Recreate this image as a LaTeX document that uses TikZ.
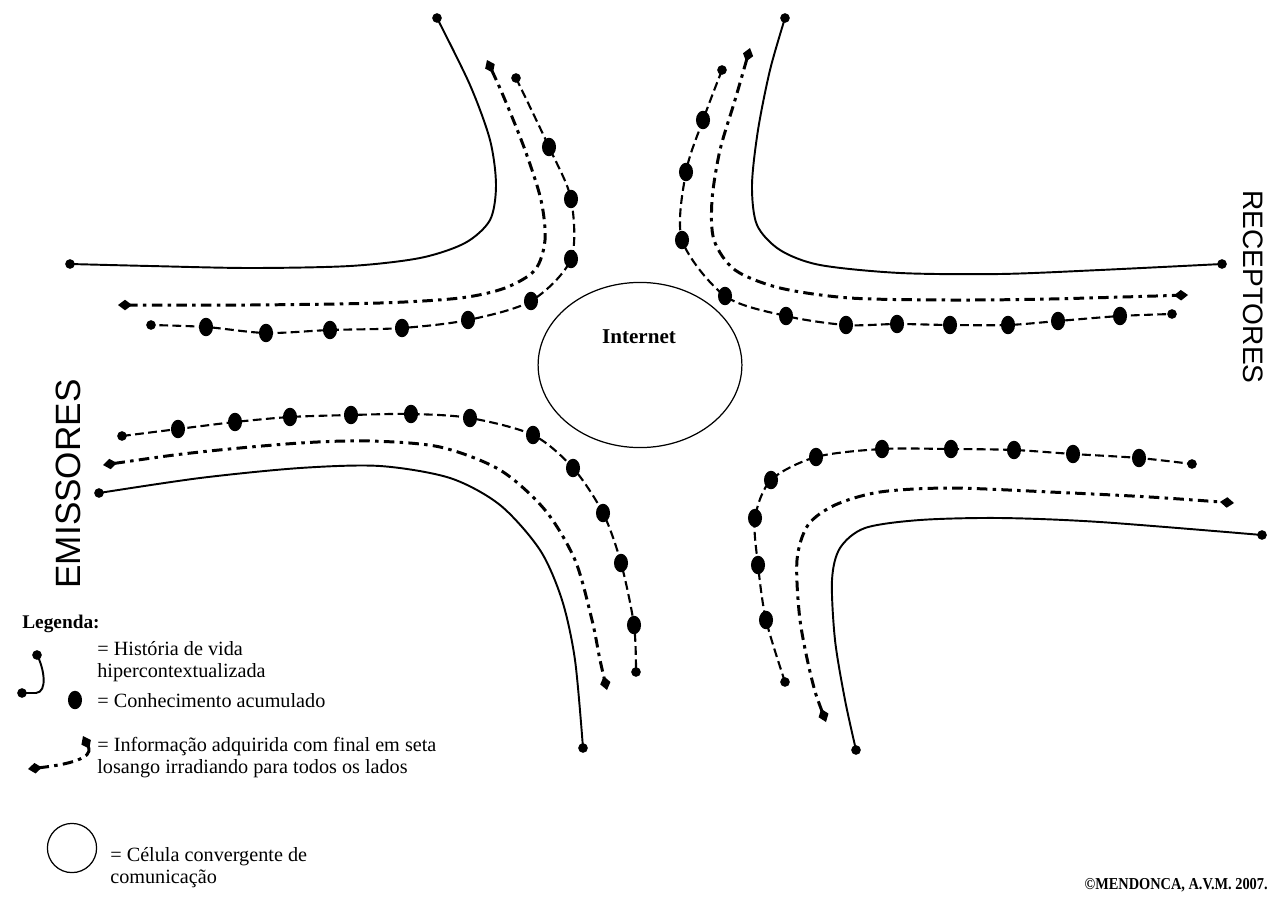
\documentclass[tikz,border=0pt]{standalone}
\usepackage{fontspec}
\setmainfont{Liberation Serif}
\setsansfont{Liberation Sans}
\usepackage{tikz}
\usetikzlibrary{arrows.meta}
\usetikzlibrary{shapes.geometric}

\begin{document}
\begin{tikzpicture}[x=0.02cm,y=-0.02cm,
	lifeline/.style={line width=1.1pt},
	infoline/.style={line width=1.7pt,dash pattern=on 6pt off 3pt on 2pt off 3pt,
		{Diamond[length=8pt,width=6pt]}-{Diamond[length=8pt,width=6pt]}},
	knowline/.style={line width=1.2pt,dash pattern=on 5pt off 2.5pt},
	enddot/.style={circle,fill=black,inner sep=0pt,minimum size=5.5pt},
	bigdot/.style={ellipse,fill=black,inner sep=0pt,minimum width=8pt,minimum height=10.5pt},
	legtext/.style={anchor=west,align=left,inner sep=0pt,font=\fontsize{11.5}{12.5}\selectfont}]
	
	\useasboundingbox (0,0) rectangle (1270,899);
	
	% --- Internet (centre cell) ---
	\node[draw,ellipse,line width=0.7pt,minimum width=116pt,minimum height=94pt] (internet) at (640,365) {};
	\node[font=\bfseries\fontsize{12}{13}\selectfont] (netlabel) at (639,337) {Internet};
	
	% --- top left ---
	\draw[lifeline] plot[smooth] coordinates {(437,18) (470,85) (490,140) (496,185) (490,220) (465,243) (420,258) (350,266) (250,268) (150,266) (70,264)};
	\node[enddot] (tlA) at (437,18) {};
	\node[enddot] (tlB) at (70,264) {};
	\draw[infoline] plot[smooth] coordinates {(487,60) (505,100) (525,150) (541,200) (545,240) (535,270) (505,288) (460,298) (380,303) (250,305) (118,305)};
	\draw[knowline] plot[smooth] coordinates {(516,78) (549,147) (571,199) (571,259) (531,301) (468,320) (402,328) (330,330) (266,333) (206,327) (151,325)};
	\foreach \x/\y in {549/147,571/199,571/259,531/301,468/320,402/328,330/330,266/333,206/327}
	\node[bigdot] at (\x,\y) {};
	\node[enddot] at (516,78) {};
	\node[enddot] at (151,325) {};
	
	% --- top right ---
	\draw[lifeline] plot[smooth] coordinates {(785,18) (770,70) (758,130) (752,185) (757,225) (780,250) (820,265) (900,273) (1000,274) (1100,270) (1222,264)};
	\node[enddot] (trA) at (785,18) {};
	\node[enddot] (trB) at (1222,264) {};
	\draw[infoline] plot[smooth] coordinates {(750,48) (735,100) (720,150) (712,200) (714,240) (735,270) (780,288) (850,298) (950,300) (1050,299) (1188,295)};
	\draw[knowline] plot[smooth] coordinates {(722,70) (703,120) (686,172) (682,240) (725,296) (786,316) (846,325) (897,324) (950,325) (1008,325) (1058,321) (1120,316) (1172,314)};
	\foreach \x/\y in {703/120,686/172,682/240,725/296,786/316,846/325,897/324,950/325,1008/325,1058/321,1120/316}
	\node[bigdot] at (\x,\y) {};
	\node[enddot] at (722,70) {};
	\node[enddot] at (1172,314) {};
	
	% --- bottom left ---
	\draw[lifeline] plot[smooth] coordinates {(99,493) (200,478) (300,468) (380,466) (450,478) (500,505) (540,550) (562,600) (575,660) (583,748)};
	\node[enddot] (blA) at (99,493) {};
	\node[enddot] (blB) at (583,748) {};
	\draw[infoline] plot[smooth] coordinates {(103,465) (200,452) (300,443) (370,441) (440,447) (500,470) (545,510) (575,560) (592,620) (600,660) (607,690)};
	\draw[knowline] plot[smooth] coordinates {(122,436) (178,429) (235,422) (290,417) (351,415) (411,414) (470,418) (533,435) (573,468) (603,513) (621,563) (634,625) (636,672)};
	\foreach \x/\y in {178/429,235/422,290/417,351/415,411/414,470/418,533/435,573/468,603/513,621/563,634/625}
	\node[bigdot] at (\x,\y) {};
	\node[enddot] at (122,436) {};
	\node[enddot] at (636,672) {};
	
	% --- bottom right ---
	\draw[lifeline] plot[smooth] coordinates {(856,750) (845,700) (835,640) (832,580) (840,548) (865,528) (920,520) (1000,518) (1100,522) (1262,535)};
	\node[enddot] (brA) at (856,750) {};
	\node[enddot] (brB) at (1262,535) {};
	\draw[infoline] plot[smooth] coordinates {(826,722) (812,680) (800,620) (797,560) (808,525) (835,505) (880,492) (950,488) (1050,492) (1150,497) (1234,503)};
	\draw[knowline] plot[smooth] coordinates {(785,682) (766,620) (758,565) (755,518) (771,480) (816,457) (882,449) (951,449) (1014,450) (1073,454) (1139,458) (1192,464)};
	\foreach \x/\y in {766/620,758/565,755/518,771/480,816/457,882/449,951/449,1014/450,1073/454,1139/458}
	\node[bigdot] at (\x,\y) {};
	\node[enddot] at (785,682) {};
	\node[enddot] at (1192,464) {};
	
	% side labels
	\node[rotate=90,font=\sffamily\fontsize{20}{20}\selectfont] (emis) at (68,484) {EMISSORES};
	\node[rotate=-90,font=\sffamily\fontsize{16}{16}\selectfont] (recep) at (1253,287) {RECEPTORES};
	
	% --- legend ---
	\node[anchor=west,inner sep=0pt,font=\bfseries\fontsize{11}{13}\selectfont] (legtitle) at (22,624) {Legenda:};
	
	\node[enddot] (histA) at (37,655) {};
	\node[enddot] (histB) at (22,693) {};
	\draw[lifeline] (histA.center) .. controls (44,668) and (48,692) .. (36,693) -- (histB.center);
	\node[legtext] (hist) at (97,662) {= História de vida\\hipercontextualizada};
	
	\node[bigdot] (know) at (75,700) {};
	\node[legtext] (knowtext) at (97,701) {= Conhecimento acumulado};
	
	\coordinate (infoA) at (83,736);
	\coordinate (infoB) at (28,769);
	\draw[infoline] (infoA) .. controls (91,752) and (90,762) .. (infoB);
	\node[legtext] (infotext) at (97,758) {= Informação adquirida com final em seta\\losango irradiando para todos os lados};
	
	\node[draw,circle,line width=0.7pt,minimum size=28pt] (cell) at (72,848) {};
	\node[legtext] (celltext) at (110,868) {= Célula convergente de\\comunicação};
	
	\node[anchor=east,inner sep=0pt,font=\bfseries\fontsize{9.5}{11}\selectfont] (copy) at (1268,885) {\scalebox{0.86}[1]{©MENDONCA, A.V.M. 2007.}};
	
\end{tikzpicture}
\end{document}
